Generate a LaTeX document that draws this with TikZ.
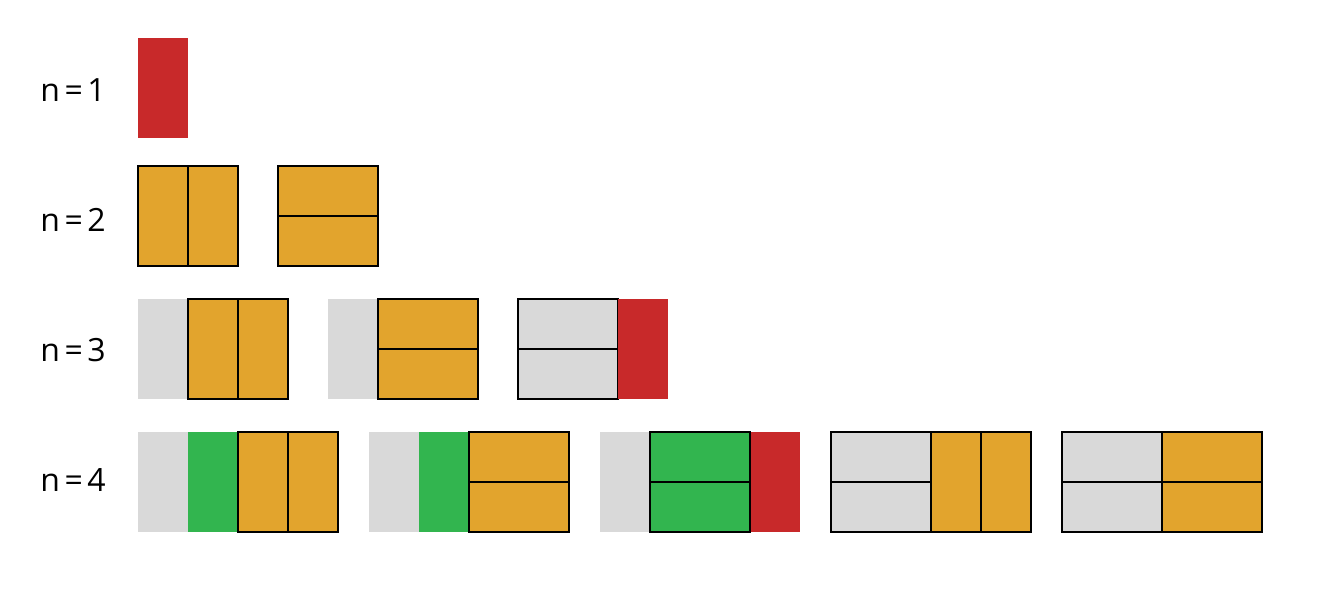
\documentclass[tikz,border=0pt]{standalone}
\usepackage{fontspec}
\setmainfont{Open Sans}
\definecolor{cred}{HTML}{C8292A}
\definecolor{corange}{HTML}{E2A42D}
\definecolor{cgreen}{HTML}{32B54F}
\definecolor{cgrey}{HTML}{D9D9D9}
\newcommand{\nlab}[1]{n\kern4.5pt=\kern4.5pt#1}
\begin{document}
\begin{tikzpicture}[x=1pt,y=-1pt,
  lbl/.style={font=\fontsize{32}{38}\selectfont, inner sep=0pt},
  edged/.style={draw=black, line width=1.3pt},
  red/.style={fill=cred}, org/.style={fill=corange}, grn/.style={fill=cgreen}, gry/.style={fill=cgrey}]
\useasboundingbox[fill=white] (0,0) rectangle (1326,603);
% labels
\node[lbl] (l1) at (73,90.5) {\nlab{1}};
\node[lbl] (l2) at (73,219.5) {\nlab{2}};
\node[lbl] (l3) at (73,350.5) {\nlab{3}};
\node[lbl] (l4) at (73,480.5) {\nlab{4}};
% n=1
\fill[red] (138,38) rectangle (188,138);
% n=2
\filldraw[org,edged] (138,166) rectangle (188,266);
\filldraw[org,edged] (188,166) rectangle (238,266);
\filldraw[org,edged] (278,166) rectangle (378,216);
\filldraw[org,edged] (278,216) rectangle (378,266);
% n=3
\fill[gry] (138,299) rectangle (188,399);
\filldraw[org,edged] (188,299) rectangle (238,399);
\filldraw[org,edged] (238,299) rectangle (288,399);
\fill[gry] (328,299) rectangle (378,399);
\filldraw[org,edged] (378,299) rectangle (478,349);
\filldraw[org,edged] (378,349) rectangle (478,399);
\filldraw[gry,edged] (518,299) rectangle (618,349);
\filldraw[gry,edged] (518,349) rectangle (618,399);
\fill[red] (618,299) rectangle (668,399);
% n=4
\fill[gry] (138,432) rectangle (188,532);
\fill[grn] (188,432) rectangle (238,532);
\filldraw[org,edged] (238,432) rectangle (288,532);
\filldraw[org,edged] (288,432) rectangle (338,532);
\fill[gry] (369,432) rectangle (419,532);
\fill[grn] (419,432) rectangle (469,532);
\filldraw[org,edged] (469,432) rectangle (569,482);
\filldraw[org,edged] (469,482) rectangle (569,532);
\fill[gry] (600,432) rectangle (650,532);
\fill[red] (750,432) rectangle (800,532);
\filldraw[grn,edged] (650,432) rectangle (750,482);
\filldraw[grn,edged] (650,482) rectangle (750,532);
\filldraw[gry,edged] (831,432) rectangle (931,482);
\filldraw[gry,edged] (831,482) rectangle (931,532);
\filldraw[org,edged] (931,432) rectangle (981,532);
\filldraw[org,edged] (981,432) rectangle (1031,532);
\filldraw[gry,edged] (1062,432) rectangle (1162,482);
\filldraw[gry,edged] (1062,482) rectangle (1162,532);
\filldraw[org,edged] (1162,432) rectangle (1262,482);
\filldraw[org,edged] (1162,482) rectangle (1262,532);
\end{tikzpicture}
\end{document}
